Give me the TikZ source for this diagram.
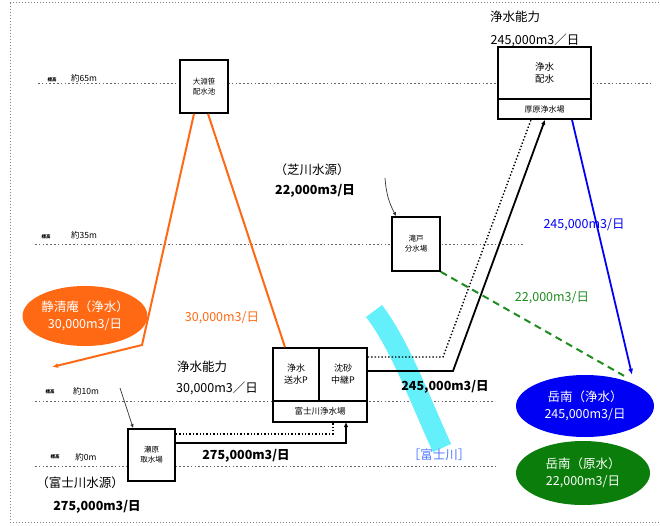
\documentclass[tikz,border=0pt]{standalone}
\usepackage{fontspec}
\setmainfont{Noto Sans CJK JP}
\usetikzlibrary{arrows.meta,shapes.geometric}
\definecolor{ora}{RGB}{255,105,20}
\definecolor{riv}{RGB}{100,240,250}
\definecolor{gdash}{RGB}{30,140,30}
\definecolor{gell}{RGB}{10,125,10}
\definecolor{blu}{RGB}{0,0,245}
\definecolor{rivtxt}{RGB}{80,120,255}
\begin{document}
\begin{tikzpicture}[x=1pt,y=-1pt,
  box/.style={draw=black,line width=1.6pt,fill=white,inner sep=0pt,align=center,font=\fontsize{7.5}{10}\selectfont},
  lab/.style={inner sep=0pt,align=center,font=\fontsize{12.5}{15}\selectfont},
  lvl/.style={gray!80!black,line width=1pt,dash pattern=on 1.6pt off 2.2pt},
  tinyl/.style={inner sep=0pt,font=\fontsize{4.5}{5}\selectfont\bfseries},
  lvll/.style={inner sep=0pt,font=\fontsize{8.5}{10}\selectfont},
  ell/.style={ellipse,inner sep=0pt,align=center,text=white,font=\fontsize{12.5}{17}\selectfont},
  tip/.style={-{Latex[length=5pt,width=4.5pt]}},
  thin/.style={gray!40!black,line width=0.7pt,-{Latex[length=4pt,width=3.5pt]}}]
\useasboundingbox (0,0) rectangle (660,526);
\draw[gray,line width=1pt,dotted] (10,3) rectangle (690,522);

% level lines
\draw[lvl] (38,84) -- (652,84);
\draw[lvl] (35,245) -- (525,245);
\draw[lvl] (35,401) -- (493,401);
\draw[lvl] (35,466) -- (495,466);
\node[tinyl] (t65) at (52,80) {標高};
\node[lvll] (l65) at (84,78) {約65m};
\node[tinyl] (t35) at (46,237) {標高};
\node[lvll] (l35) at (84,235) {約35m};
\node[tinyl] (t10) at (50,392) {標高};
\node[lvll] (l10) at (86,391) {約10m};
\node[tinyl] (t0) at (55,457) {標高};
\node[lvll] (l0) at (86,457) {約0m};

% river
\draw[riv,line width=20pt] (374,311) .. controls (400,345) and (420,400) .. (442,448);
\node[lab,text=rivtxt] (rivl) at (439,455) {［富士川］};

% boxes
\node[box,minimum width=48pt,minimum height=53pt] (oob) at (204,86.5) {大淵笹\\配水池};
\node[box,minimum width=93pt,minimum height=52pt,font=\fontsize{9.5}{12}\selectfont] (atsA) at (544.5,73) {浄水\\配水};
\node[box,minimum width=93pt,minimum height=20pt,font=\fontsize{8}{10}\selectfont] (atsB) at (544.5,109) {厚原浄水場};
\node[box,minimum width=48pt,minimum height=54pt] (tak) at (416,244) {滝戸\\分水場};
\node[box,minimum width=46pt,minimum height=53pt,font=\fontsize{9}{12}\selectfont] (fjA) at (296,374.5) {浄水\\送水P};
\node[box,minimum width=48pt,minimum height=53pt,font=\fontsize{9}{12}\selectfont] (fjB) at (343,374.5) {沈砂\\中継P};
\node[box,minimum width=94pt,minimum height=21pt,font=\fontsize{8.5}{10}\selectfont] (fjC) at (320,411.5) {富士川浄水場};
\node[box,minimum width=47pt,minimum height=52pt] (shu) at (151.5,455) {瀬原\\取水場};

% ellipses
\node[ell,fill=ora,minimum width=125pt,minimum height=60pt] (shz) at (85,316) {静清庵（浄水）\\30,000m3/日};
\node[ell,fill=blu,minimum width=138pt,minimum height=62pt] (gnj) at (585,406) {岳南（浄水）\\245,000m3/日};
\node[ell,fill=gell,minimum width=134pt,minimum height=64pt] (gng) at (583,473) {岳南（原水）\\22,000m3/日};

% orange lines
\coordinate (obend) at (142,345);
\coordinate (oend) at (52,367);
\draw[ora,line width=2pt,-{Latex[length=6pt,width=5pt]}] ([xshift=-10pt]oob.south) -- (obend) -- (oend);
\draw[ora,line width=2pt] ([xshift=4pt]oob.south) -- ([xshift=-11pt]fjA.north);
\node[lab,text=ora] (o30) at (222,318) {30,000m3/日};

% intake to Fujikawa
\draw[black,line width=1.8pt,tip] (shu.east |- 0,443) -- (346,443) -- (346,422);
\draw[black,line width=1.4pt,dotted] (shu.east |- 0,434) -- (333,434) -- (333,422);

% Fujikawa to Atsuhara
\coordinate (sb) at (453,371);
\coordinate (db) at (443,357);
\draw[black,line width=1.8pt,tip] (fjB.east |- sb) -- (sb) -- ([xshift=0.5pt]atsB.south);
\draw[black,line width=1.4pt,dotted] (fjB.east |- db) -- (db) -- ([xshift=-13.5pt]atsB.south);
\node[lab,font=\fontsize{12.5}{15}\selectfont\bfseries] (v245a) at (445,387) {245,000m3/日};

% Atsuhara to Gakunan
\draw[blu,line width=1.8pt,-{Latex[length=6pt,width=5pt]}] ([xshift=27.5pt]atsB.south) -- ([xshift=47pt]gnj.north);
\node[lab,text=blu] (v245b) at (584,225) {245,000m3/日};

% Takido to Gakunan
\draw[gdash,line width=2pt,dash pattern=on 7pt off 5pt] (tak.south east) -- ([xshift=39pt,yshift=-1pt]gnj.north);
\node[lab,text=gdash] (v22g) at (552,298) {22,000m3/日};

% labels
\node[lab] (jn1) at (515,17) {浄水能力};
\node[lab] (jn1v) at (535,40) {245,000m3／日};
\node[lab] (shiba) at (312,170) {（芝川水源）};
\node[lab,font=\fontsize{12.5}{15}\selectfont\bfseries] (shibav) at (315,191) {22,000m3/日};
\node[lab] (jn2) at (202,367) {浄水能力};
\node[lab] (jn2v) at (217,388) {30,000m3／日};
\node[lab] (fsrc) at (80,483) {（富士川水源）};
\node[lab,font=\fontsize{12.5}{15}\selectfont\bfseries] (fsrcv) at (97,507) {275,000m3/日};
\node[lab,font=\fontsize{12.5}{15}\selectfont\bfseries] (v275) at (246,456) {275,000m3/日};

% thin arrows
\coordinate (ash) at (385,178);
\draw[thin] (ash) to[bend right=12] ([xshift=5pt]tak.north west);
\coordinate (a10) at (120,388);
\draw[thin] (a10) -- ([xshift=6pt]shu.north west);
\end{tikzpicture}
\end{document}
